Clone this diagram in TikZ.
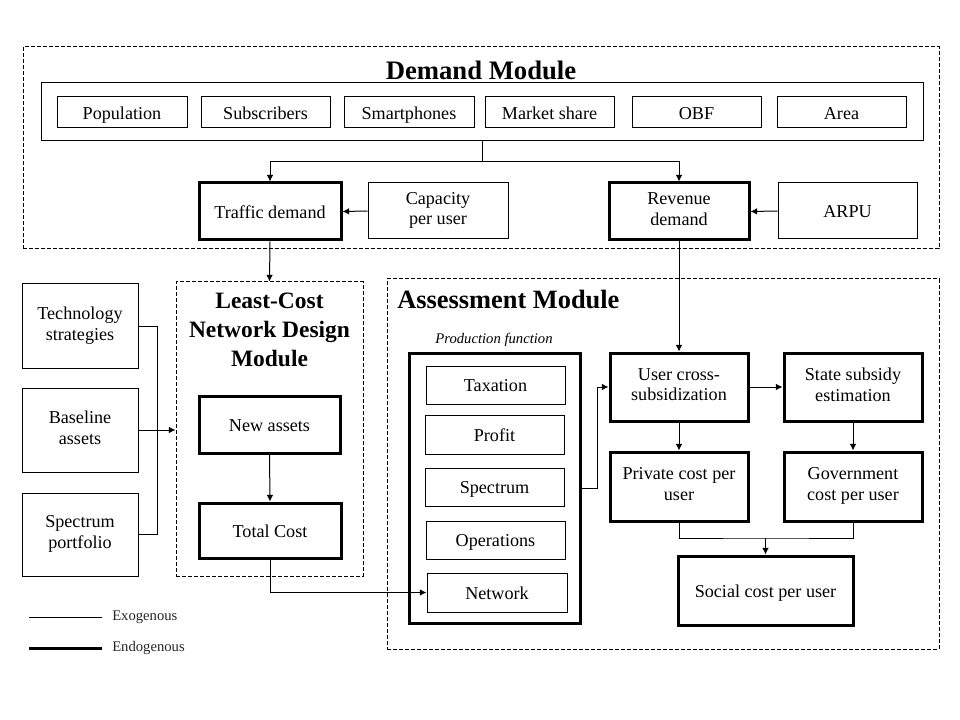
\documentclass[tikz,border=0pt]{standalone}
\usepackage{fontspec}
\setmainfont{Liberation Serif}
\usetikzlibrary{arrows.meta}
\newcommand\boxstrut{\rule[-3.5pt]{0pt}{17pt}}
\tikzset{
  wh/.style 2 args={minimum width=#1*0.75pt, minimum height=#2*0.75pt},
  txt/.style={align=center, font=\fontsize{13.6}{15.3}\selectfont, execute at begin node={\boxstrut}, execute at end node={\boxstrut}},
  thinbox/.style={draw, line width=0.75pt, inner sep=0pt, txt},
  thickbox/.style={draw, line width=2.25pt, inner sep=0pt, txt},
  modbox/.style={draw, line width=0.75pt, dash pattern=on 3pt off 1.5pt, inner sep=0pt},
  conn/.style={line width=0.75pt},
  arr/.style={line width=0.75pt, -{Latex[length=5pt,width=5pt]}},
  title/.style={font=\fontsize{20}{24}\selectfont\bfseries, inner sep=0pt, align=center},
}
\begin{document}
\begin{tikzpicture}[x=0.75pt,y=-0.75pt]
\useasboundingbox (0,0) rectangle (960,720);
% Demand module
\node[modbox, wh={916}{202}] (demand) at (481,148) {};
\node[title] (demandt) at (481,70) {Demand Module};
\node[thinbox, wh={882}{58}] (drivers) at (482,112) {};
\node[thinbox, wh={130}{31}] (pop) at (122,112.5) {Population};
\node[thinbox, wh={129}{31}] (sub) at (265.5,112.5) {Subscribers};
\node[thinbox, wh={130}{31}] (smart) at (409,112.5) {Smartphones};
\node[thinbox, wh={129}{31}] (market) at (549.5,112.5) {Market share};
\node[thinbox, wh={129}{31}] (obf) at (696.5,112.5) {OBF};
\node[thinbox, wh={129}{31}] (area) at (841.5,112.5) {Area};
\node[thickbox, wh={142}{57}] (traffic) at (270,211.5) {Traffic demand};
\node[thinbox, wh={140}{56}] (capacity) at (438,211) {Capacity\\per user};
\node[thickbox, wh={140}{57}] (revenue) at (679,211.5) {Revenue\\demand};
\node[thinbox, wh={139}{56}] (arpu) at (847.5,211) {ARPU};
\coordinate (split) at (482,162);
\draw[conn] (drivers.south) -- (split);
\draw[arr] (split) -| (traffic.north);
\draw[arr] (split) -| (revenue.north);
\draw[arr] (capacity.west) -- (traffic.east);
\draw[arr] (arpu.west) -- (revenue.east);
% Least-cost module
\node[modbox, wh={187}{294}] (least) at (269.5,429) {};
\node[font=\fontsize{17.6}{22}\selectfont\bfseries, inner sep=0pt, align=center] (leastt) at (269.5,330) {Least-Cost\\Network Design\\Module};
\node[thickbox, wh={141}{57}] (newassets) at (269.5,424.5) {New assets};
\node[thickbox, wh={142}{55}] (totalcost) at (270,530.5) {Total Cost};
\node[thinbox, wh={116}{84}] (tech) at (80,326) {Technology\\strategies};
\node[thinbox, wh={116}{84}] (baseline) at (80,430) {Baseline\\assets};
\node[thinbox, wh={116}{83}] (specport) at (80,534.5) {Spectrum\\portfolio};
\draw[arr] (traffic.south) -- (least.north);
\draw[conn] (tech.east) -- ++(19,0) |- (specport.east);
\draw[arr] (baseline.east) -- (baseline.east -| least.west);
\draw[arr] (newassets.south) -- (totalcost.north);
% Assessment module
\node[modbox, wh={552}{370}] (assess) at (663,464) {};
\node[font=\fontsize{19.8}{23}\selectfont\bfseries, inner sep=0pt, anchor=west] (assesst) at (397,300) {Assessment Module};
\node[font=\fontsize{11}{12}\selectfont\itshape, inner sep=0pt] (prodt) at (494,340) {Production function};
\node[thickbox, wh={171}{270}] (prod) at (494.5,488) {};
\node[thinbox, wh={139}{38}] (tax) at (495.5,385) {Taxation};
\node[thinbox, wh={139}{39}] (profit) at (494.5,434.5) {Profit};
\node[thinbox, wh={139}{38}] (spectrum) at (494.5,487) {Spectrum};
\node[thinbox, wh={139}{38}] (operations) at (495.5,540) {Operations};
\node[thinbox, wh={140}{39}] (network) at (497,592.5) {Network};
\node[thickbox, wh={138}{68}] (usercross) at (679,387) {User cross-\\subsidization};
\node[thickbox, wh={138}{68}] (state) at (853,387) {State subsidy\\estimation};
\node[thickbox, wh={138}{69}] (private) at (679,486.5) {Private cost per\\user};
\node[thickbox, wh={138}{69}] (gov) at (853,486.5) {Government\\cost per user};
\node[thickbox, wh={175}{69}] (social) at (765.5,590.5) {Social cost per user};
\draw[arr] (totalcost.south) |- (network.west);
\draw[arr] (revenue.south) -- (usercross.north);
\draw[arr] (prod.east) -- ++(16,0) |- (usercross.west);
\draw[arr] (usercross.east) -- (state.west);
\draw[arr] (usercross.south) -- (private.north);
\draw[arr] (state.south) -- (gov.north);
\coordinate (join) at (765.5,538);
\draw[conn] (private.south) |- (join) -| (gov.south);
\draw[arr] (join) -- (social.north);
% Legend
\coordinate (exa) at (29,617);
\coordinate (exb) at (102,617);
\coordinate (ena) at (29,648);
\coordinate (enb) at (102,648);
\draw[conn] (exa) -- (exb);
\draw[line width=2.25pt] (ena) -- (enb);
\node[font=\fontsize{11}{12}\selectfont, inner sep=0pt, anchor=west, text=black!85] (exo) at (112,617) {Exogenous};
\node[font=\fontsize{11}{12}\selectfont, inner sep=0pt, anchor=west, text=black!85] (endo) at (112,648) {Endogenous};
\end{tikzpicture}
\end{document}
